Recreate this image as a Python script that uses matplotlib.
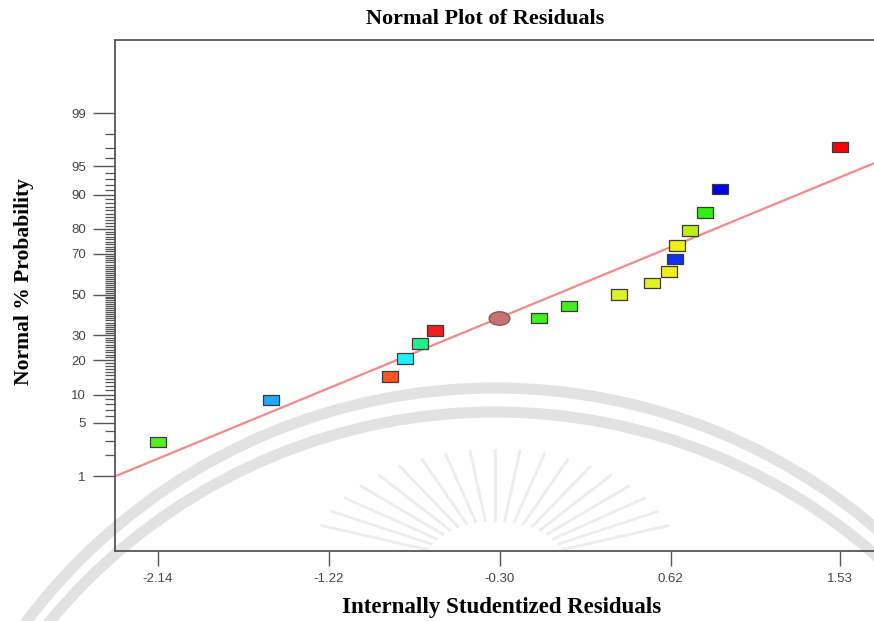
import math
import numpy as np
import matplotlib
matplotlib.use("Agg")
import matplotlib.pyplot as plt
from matplotlib.path import Path
from matplotlib.patches import Arc
from statistics import NormalDist

# ---------------- data ----------------
residuals = [-2.14, -1.533, -0.891, -0.811, -0.730, -0.649, -0.087, 0.072, 0.341,
             0.519, 0.609, 0.641, 0.653, 0.722, 0.802, 0.883, 1.53]
probability = [2.94, 8.82, 14.71, 20.59, 26.47, 32.35, 38.24, 44.12, 50.0,
               55.88, 61.76, 67.65, 73.53, 79.41, 85.29, 91.18, 97.06]
colors = ['#55ee22', '#22aaff', '#ff5522', '#22eeff', '#22ee88', '#ee2020',
          '#44ee22', '#44ee22', '#ddf22a', '#e2f220', '#eeee22', '#1030ee',
          '#eeee11', '#bbee11', '#33ee11', '#0000ee', '#ff0000']
highlight_x = [-0.305]
highlight_p = [38.24]
line_slope = 0.983
line_intercept = 0.0
xticks = [-2.14, -1.22, -0.30, 0.62, 1.53]
xticklabels = ['-2.14', '-1.22', '-0.30', '0.62', '1.53']
ymajor = [1, 5, 10, 20, 30, 50, 70, 80, 90, 95, 99]
yminor = [v for v in range(2, 99) if v not in ymajor]

# ---------------- scale ----------------
_nd = NormalDist()
_ppf = np.vectorize(lambda p: _nd.inv_cdf(min(max(p / 100.0, 1e-12), 1 - 1e-12)))
_cdf = np.vectorize(lambda z: 100.0 * 0.5 * (1 + math.erf(z / math.sqrt(2))))


def fwd(p):
    return _ppf(np.asarray(p, dtype=float))


def inv(z):
    return _cdf(np.asarray(z, dtype=float))


W, H = 874, 621
fig = plt.figure(figsize=(W / 100, H / 100), dpi=100)
fig.patch.set_facecolor('white')

# faint watermark arcs / rays (background)
bg = fig.add_axes([0, 0, 1, 1], zorder=0)
bg.set_xlim(0, W)
bg.set_ylim(H, 0)
bg.axis('off')
for (cx, cy, r) in [(495, 975, 587), (495, 990, 578)]:
    bg.add_patch(Arc((cx, cy), 2 * r, 2 * r, theta1=0, theta2=360,
                     color='#e2e2e2', lw=8))
for ang in np.linspace(20, 160, 19):
    a = math.radians(ang)
    r0, r1 = 45, 115
    bg.plot([495 + r0 * math.cos(a) * 1.6, 495 + r1 * math.cos(a) * 1.6],
            [565 - r0 * math.sin(a), 565 - r1 * math.sin(a)],
            color='#ececec', lw=2)

ax = fig.add_axes([115 / W, (H - 551) / H, (W - 115) / W, (551 - 40) / H], zorder=1)
ax.patch.set_alpha(0)
ax.set_yscale('function', functions=(fwd, inv))
ax.set_xlim(-2.371, 1.713)
ax.set_ylim(0.0505, 99.945)

# fit line
xl = np.linspace(-2.371, 1.713, 50)
ax.plot(xl, inv(line_slope * xl + line_intercept), color='#f08a8a', lw=1.6,
        zorder=2, solid_capstyle='butt')

rect = Path([(-1.5, -1), (1.5, -1), (1.5, 1), (-1.5, 1), (-1.5, -1)],
            [Path.MOVETO, Path.LINETO, Path.LINETO, Path.LINETO, Path.CLOSEPOLY])
ax.scatter(residuals, probability, marker=rect, s=11.5 ** 2, c=colors,
           edgecolors='#3a3a3a', linewidths=0.9, zorder=3)
ell = Path.unit_circle()
ell = Path(ell.vertices * np.array([1.0, 0.65]), ell.codes)
ax.scatter(highlight_x, highlight_p, marker=ell, s=15 ** 2, c='#c47474',
           edgecolors='#8a5050', linewidths=0.9, zorder=3)

for s in ['left', 'top', 'bottom']:
    ax.spines[s].set_color('#555555')
    ax.spines[s].set_linewidth(1.3)
ax.spines['right'].set_visible(False)

ax.set_xticks(xticks)
ax.set_xticklabels(xticklabels)
ax.set_yticks(ymajor)
ax.set_yticklabels([str(v) for v in ymajor])
ax.set_yticks(yminor, minor=True)
ax.xaxis.set_minor_locator(matplotlib.ticker.NullLocator())
ax.tick_params(axis='x', which='major', length=10.5, width=1, color='#555555',
               labelsize=9.5, labelcolor='#444444', pad=5)
ax.tick_params(axis='y', which='major', length=16, width=1, color='#555555',
               labelsize=9.5, labelcolor='#444444', pad=5)
ax.tick_params(axis='y', which='minor', length=7.5, width=0.9, color='#555555')
for lab in ax.get_xticklabels() + ax.get_yticklabels():
    lab.set_fontfamily('Liberation Sans')

serif = ['Liberation Serif', 'DejaVu Serif']
fig.text(485 / W, 1 - 19 / H, 'Normal Plot of Residuals', ha='center', va='center',
         fontfamily=serif, fontweight='bold', fontsize=16)
fig.text(502 / W, 1 - 607 / H, 'Internally Studentized Residuals', ha='center',
         va='center', fontfamily=serif, fontweight='bold', fontsize=16.5)
fig.text(24 / W, 1 - 282 / H, 'Normal % Probability', ha='center', va='center',
         rotation=90, fontfamily=serif, fontweight='bold', fontsize=15.5)

fig.savefig('out.png', dpi=100, facecolor='white')
